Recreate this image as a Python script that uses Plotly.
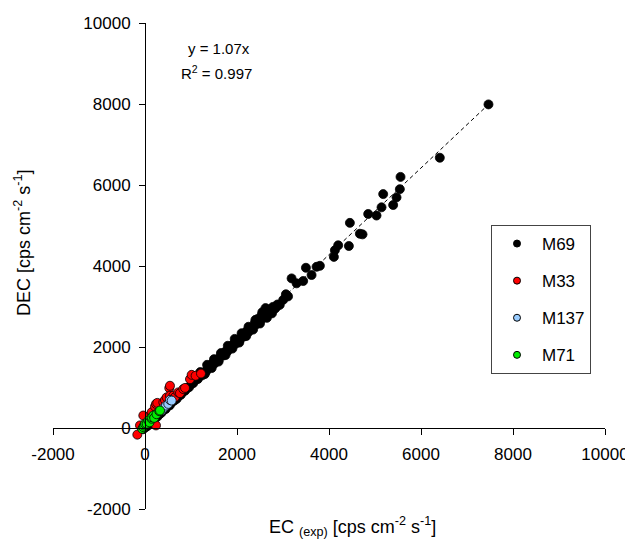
import plotly.graph_objects as go

# M69 (black)
m69_x = [-72, -40, 0, 20, 60, 100, 140, 180, 230, 270, 320, 360, 400, 450, 500, 540, 590, 640, 690,
         730, 780, 830, 870, 920, 960, 1010, 1050, 1100, 1150, 1190, 1240, 1290, 1330, 1380, 1420,
         1470, 1510, 1560, 1600, 1650, 1700, 1740, 1790, 1830, 1880, 1920, 1970, 2020, 2060, 2110,
         2150, 2200, 2250, 2290, 2330, 2390, 2420, 2460, 2500, 2540, 2570, 2610, 2650, 2700, 2740,
         2780, 2820, 2880, 2930, 3005, 3063, 3110, 3187, 3296, 3439, 3498, 3621, 3729, 3802, 4106,
         4128, 4200, 4432, 4454, 4671, 4729, 4852, 5033, 5142, 5178, 5395, 5468, 5540, 5555, 6409,
         7467,
         1200, 1350, 1500, 1650, 1800, 1950, 2100, 2250, 2400, 2550,
         1300, 1450, 1600, 1750, 1900, 2050, 2200, 2350, 2500, 2650, 2620, 2760, 2850]
m69_y = [22, -30, 20, 25, 55, 110, 150, 185, 250, 280, 345, 380, 440, 470, 545, 560, 640, 680, 720,
         790, 820, 900, 920, 985, 1010, 1090, 1110, 1190, 1210, 1290, 1300, 1380, 1400, 1490, 1500,
         1600, 1590, 1690, 1680, 1780, 1790, 1880, 1890, 1960, 1990, 2070, 2080, 2180, 2170, 2270,
         2260, 2380, 2370, 2460, 2440, 2600, 2560, 2700, 2640, 2790, 2720, 2850, 2800, 2930, 2880,
         2990, 2940, 3050, 3040, 3165, 3302, 3250, 3694, 3572, 3630, 3956, 3777, 3980, 4005, 4225,
         4389, 4511, 4494, 5065, 4796, 4781, 5285, 5246, 5449, 5775, 5506, 5694, 5897, 6200, 6673,
         7990,
         1380, 1560, 1700, 1850, 2030, 2200, 2340, 2500, 2670, 2860,
         1330, 1480, 1640, 1800, 1960, 2110, 2270, 2430, 2580, 2720, 2960, 2830, 2980]

# M33 (red)
m33_x = [-167, -109, -37, 36, 109, 145, 217, 239, 239, 267, 398, 434, 471, 528, 543, 543, 615, 650,
         724, 760, 832, 870, 978, 1014, 1100, 1217]
m33_y = [-164, 64, 308, 105, 308, 389, 529, 64, 595, 620, 634, 693, 756, 986, 1043, 798, 798, 760,
         879, 860, 962, 990, 1206, 1312, 1290, 1344]

# M137 (light blue)
m137_x = [217, 290, 362, 410, 456, 506, 543, 580]
m137_y = [308, 380, 431, 500, 553, 595, 693, 676]

# M71 (green)
m71_x = [-60, -37, -20, 0, 36, 72, 100, 145, 145, 181, 200, 250, 311, 326]
m71_y = [-20, 22, 60, 105, 105, 186, 140, 228, 267, 308, 250, 340, 414, 431]

slope = 1.07
fit_x = [0, 7480]
fit_y = [slope * v for v in fit_x]

tick_vals = [-2000, 0, 2000, 4000, 6000, 8000, 10000]
tick_text = ["-2000", "0", "2000", "4000", "6000", "8000", "10000"]

names = ["M69", "M33", "M137", "M71"]
colors = ["#000000", "#ff0000", "#99ccff", "#00ee00"]
xs = [m69_x, m33_x, m137_x, m71_x]
ys = [m69_y, m33_y, m137_y, m71_y]

FONT = "Liberation Sans, Arial, sans-serif"

fig = go.Figure()
fig.add_trace(go.Scatter(x=fit_x, y=fit_y, mode="lines", showlegend=False,
                         line=dict(color="black", width=1, dash="4px,3px")))
for n, c, x, y in zip(names, colors, xs, ys):
    fig.add_trace(go.Scatter(x=x, y=y, mode="markers", name=n, showlegend=False,
                             marker=dict(size=9, color=c, line=dict(color="black", width=0.8))))
for i, (n, c) in enumerate(zip(names, colors)):
    fig.add_trace(go.Scatter(x=[None], y=[None], mode="markers", name=n, legendgroup=n,
                             marker=dict(size=7, color=c, line=dict(color="black", width=1))))

axis_common = dict(range=[-2000, 10000], tickvals=tick_vals, ticktext=tick_text,
                   showgrid=False, zeroline=False, showline=True, linecolor="black", linewidth=1,
                   ticks="outside", ticklen=6, tickcolor="black", tickwidth=1,
                   tickfont=dict(family=FONT, size=17, color="black"), anchor="free",
                   position=1/6, automargin=False, ticklabelstandoff=5)

# page body offsets the figure by 8px; compensate so the plot area lands at 53..605 x 23..509
OFF = 8
fig.update_layout(
    width=633 - OFF, height=545 - OFF,
    margin=dict(l=53 - OFF, r=28, t=23 - OFF, b=36, autoexpand=False),
    paper_bgcolor="white", plot_bgcolor="white",
    xaxis=axis_common,
    yaxis=axis_common,
    font=dict(family=FONT, color="black"),
    legend=dict(x=(491 - 53) / 552, y=(509 - 225) / 486, xanchor="left", yanchor="top",
                bordercolor="#444", borderwidth=1, bgcolor="white",
                font=dict(family=FONT, size=17, color="black"),
                tracegroupgap=12, itemwidth=40),
    annotations=[
        dict(text="EC <sub>(exp)</sub> [cps cm<sup>-2</sup> s<sup>-1</sup>]", xref="paper", yref="paper",
             x=(352 - 53) / 552, y=(509 - 526) / 486, xanchor="center", yanchor="middle",
             showarrow=False, font=dict(family=FONT, size=18)),
        dict(text="DEC [cps cm<sup>-2</sup> s<sup>-1</sup>]", xref="paper", yref="paper",
             x=(22 - 53) / 552, y=(509 - 243) / 486, xanchor="center", yanchor="middle",
             showarrow=False, textangle=-90, font=dict(family=FONT, size=18)),
        dict(text="y = 1.07x", xref="paper", yref="paper", x=(219 - 53) / 552, y=(509 - 48) / 486,
             xanchor="center", yanchor="middle", showarrow=False, font=dict(family=FONT, size=15)),
        dict(text="R<sup>2</sup> = 0.997", xref="paper", yref="paper", x=(216 - 53) / 552,
             y=(509 - 72) / 486, xanchor="center", yanchor="middle", showarrow=False,
             font=dict(family=FONT, size=15)),
    ],
)

fig.write_html("out.html")
